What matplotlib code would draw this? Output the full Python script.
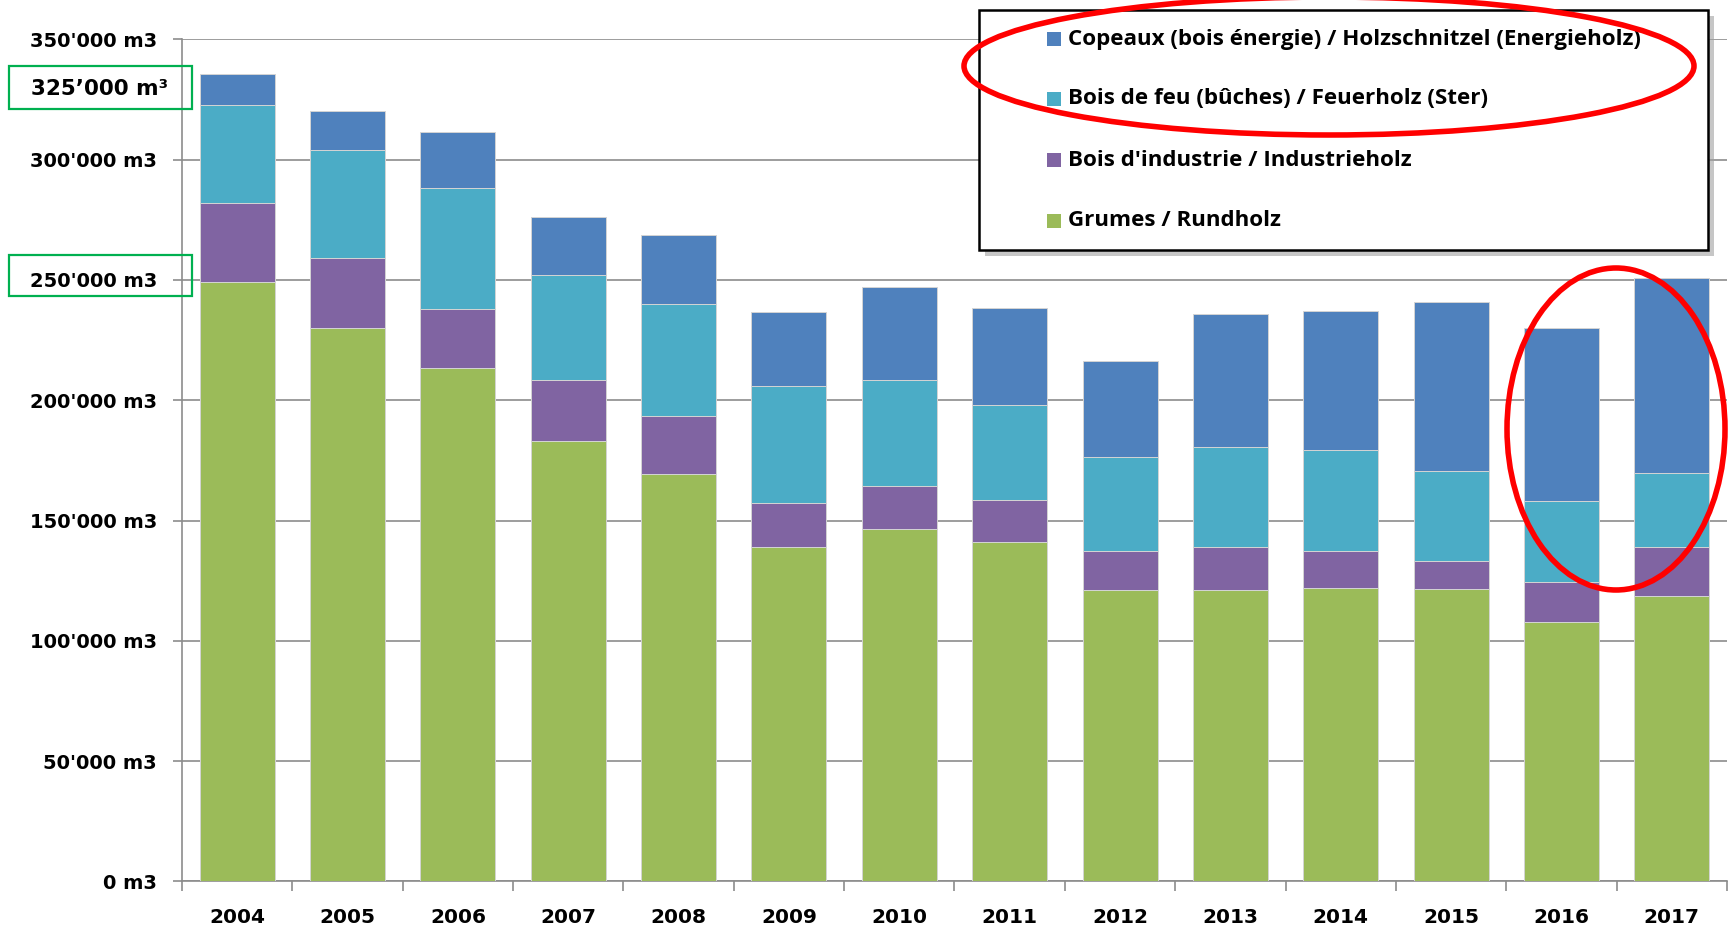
import numpy as np
import matplotlib.pyplot as plt
from matplotlib.patches import Ellipse, Rectangle

# data (m3)
years = ['2004', '2005', '2006', '2007', '2008', '2009', '2010',
         '2011', '2012', '2013', '2014', '2015', '2016', '2017']
grumes = [249000, 230000, 213500, 183000, 169300, 139000, 146500,
          141000, 121000, 121000, 122000, 121400, 108000, 118700]
industrie = [33000, 29300, 24500, 25500, 24000, 18100, 18000,
             17500, 16300, 18000, 15400, 11600, 16500, 20300]
feu = [40500, 44600, 50000, 43600, 46800, 48900, 43800,
       39400, 39000, 41500, 42000, 37400, 33500, 30900]
copeaux = [13000, 16500, 23600, 24100, 28400, 30500, 38700,
           40600, 39900, 55400, 57600, 70300, 71900, 80900]

series = [grumes, industrie, feu, copeaux]
labels = ['Grumes / Rundholz',
          "Bois d'industrie / Industrieholz",
          'Bois de feu (bûches) / Feuerholz (Ster)',
          'Copeaux (bois énergie) / Holzschnitzel (Energieholz)']
colors = ['#9BBB59', '#8064A2', '#4BACC6', '#4F81BD']
yticks = [0, 50000, 100000, 150000, 200000, 250000, 300000, 350000]

W, H = 1731, 931


def fx(x):
    return x / W


def fy(y):
    return 1 - y / H


fig = plt.figure(figsize=(W / 100, H / 100), dpi=100)
ax = fig.add_axes([fx(182), 49.6 / H, (1727 - 182) / W, (881.4 - 39.3) / H])

x = np.arange(len(years))
bottom = np.zeros(len(years))
for vals, c in zip(series, colors):
    ax.bar(x, vals, 0.68, bottom=bottom, color=c, edgecolor='#d4d4d4',
           linewidth=0.7, zorder=3)
    bottom += np.array(vals)

ax.set_xlim(-0.5, len(years) - 0.5)
ax.set_ylim(0, 350000)

grey = '#8c8c8c'
ax.set_yticks(yticks)
ax.set_yticklabels([f"{v:,}".replace(',', "'") + ' m3' for v in yticks],
                   fontsize=14, fontweight='bold', family='DejaVu Sans')
ax.yaxis.grid(True, color=grey, linewidth=1.2, zorder=0)
ax.tick_params(axis='y', length=6.5, width=1.2, color=grey, pad=11.5)

ax.set_xticks(np.arange(-0.5, len(years)), minor=False)
ax.set_xticklabels([])
ax.set_xticks(x, minor=True)
ax.set_xticklabels(years, minor=True, fontsize=14.5, fontweight='bold',
                   family='DejaVu Sans')
ax.tick_params(axis='x', which='major', length=7.2, width=1.2, color=grey)
ax.tick_params(axis='x', which='minor', length=0, pad=19)

for s in ['top', 'right']:
    ax.spines[s].set_visible(False)
for s in ['left', 'bottom']:
    ax.spines[s].set_color(grey)
    ax.spines[s].set_linewidth(1.2)

# legend box drawn by hand to match the position of the original
lx0, ly0, lx1, ly1 = 979, 10, 1708, 250
fig.patches.append(Rectangle((fx(lx0 + 6), fy(ly1 + 6)), (lx1 - lx0) / W,
                             (ly1 - ly0) / H, transform=fig.transFigure,
                             facecolor='#a0a0a0', edgecolor='none', alpha=0.6,
                             zorder=4))
fig.patches.append(Rectangle((fx(lx0), fy(ly1)), (lx1 - lx0) / W,
                             (ly1 - ly0) / H, transform=fig.transFigure,
                             facecolor='white', edgecolor='black',
                             linewidth=1.8, zorder=5))
rows = [39, 99, 160, 221]
for yy, lab, c in zip(rows, labels[::-1], colors[::-1]):
    fig.patches.append(Rectangle((fx(1047), fy(yy + 7)), 14 / W, 14 / H,
                                 transform=fig.transFigure, facecolor=c,
                                 edgecolor='none', zorder=6))
    fig.text(fx(1068), fy(yy), lab, fontsize=16.1, fontweight='bold',
             family='Open Sans', va='center', ha='left', zorder=6)

# annotations
fig.patches.append(Ellipse((fx(1329), fy(66)), 730 / W, 138 / H,
                           transform=fig.transFigure, fill=False,
                           edgecolor='#ff0000', linewidth=4, zorder=7))
fig.patches.append(Ellipse((fx(1616), fy(429)), 218 / W, 322 / H,
                           transform=fig.transFigure, fill=False,
                           edgecolor='#ff0000', linewidth=4, zorder=7))
for y0, y1 in [(66, 109), (255, 296)]:
    fig.patches.append(Rectangle((fx(9), fy(y1)), 183 / W, (y1 - y0) / H,
                                 transform=fig.transFigure, fill=False,
                                 edgecolor='#00b050', linewidth=1.6, zorder=7))
fig.text(fx(100), fy(89), '325’000 m³', fontsize=15.5, fontweight='bold',
         family='DejaVu Sans', ha='center', va='center')

fig.savefig('out.png', dpi=100)
